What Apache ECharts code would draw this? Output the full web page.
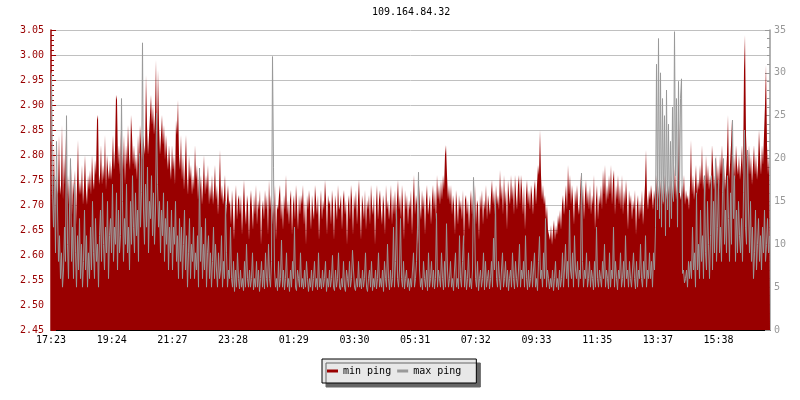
<!DOCTYPE html>
<html>
<head>
<meta charset="utf-8">
<script src="https://cdn.jsdelivr.net/npm/echarts@6/dist/echarts.min.js"></script>
<style>html,body{margin:0;padding:0;background:#fff;}#c{width:800px;height:400px;}</style>
</head>
<body>
<div id="c"></div>
<script>
const titleText = '109.164.84.32';
const tickLabels = ['17:23','19:24','21:27','23:28','01:29','03:30','05:31','07:32','09:33','11:35','13:37','15:38'];
const seriesNames = ['min ping','max ping'];

const minPing = [
2.74,2.70,2.76,2.72,2.82,2.68,2.76,2.73,2.72,2.84,
2.72,2.74,2.86,2.71,2.80,2.74,2.84,2.72,2.76,2.70,
2.74,2.78,2.68,2.75,2.72,2.77,2.66,2.74,2.83,2.72,
2.75,2.72,2.78,2.70,2.74,2.80,2.73,2.70,2.76,2.73,
2.77,2.72,2.80,2.75,2.73,2.79,2.76,2.87,2.88,2.74,
2.76,2.82,2.74,2.78,2.75,2.84,2.73,2.80,2.77,2.75,
2.79,2.75,2.78,2.84,2.77,2.81,2.92,2.91,2.78,2.82,
2.76,2.85,2.80,2.77,2.84,2.74,2.82,2.78,2.86,2.80,
2.77,2.88,2.84,2.78,2.82,2.77,2.80,2.75,2.84,2.78,
2.86,2.82,2.79,2.84,2.82,2.80,2.96,2.86,2.80,2.84,
2.88,2.92,2.86,2.90,2.84,2.88,2.99,2.82,2.97,2.86,
2.80,2.84,2.88,2.82,2.86,2.79,2.84,2.80,2.77,2.82,
2.78,2.75,2.82,2.77,2.80,2.74,2.87,2.84,2.91,2.80,
2.77,2.84,2.75,2.80,2.73,2.78,2.84,2.76,2.72,2.80,
2.75,2.78,2.72,2.76,2.73,2.82,2.75,2.78,2.71,2.76,
2.73,2.76,2.70,2.74,2.80,2.72,2.76,2.73,2.78,2.70,
2.74,2.71,2.76,2.70,2.73,2.78,2.71,2.74,2.68,2.73,
2.81,2.71,2.74,2.70,2.72,2.76,2.68,2.71,2.74,2.70,
2.71,2.66,2.73,2.69,2.63,2.70,2.74,2.67,2.71,2.72,
2.68,2.72,2.64,2.70,2.75,2.69,2.66,2.72,2.70,2.63,
2.70,2.73,2.69,2.65,2.72,2.68,2.74,2.66,2.71,2.69,
2.73,2.62,2.69,2.71,2.67,2.73,2.69,2.72,2.64,2.75,
2.69,2.72,2.66,2.71,2.68,2.74,2.63,2.70,2.69,2.72,
2.74,2.67,2.71,2.65,2.72,2.69,2.76,2.68,2.71,2.66,
2.71,2.73,2.64,2.70,2.72,2.67,2.74,2.70,2.65,2.72,
2.68,2.72,2.70,2.74,2.66,2.71,2.62,2.72,2.69,2.73,
2.70,2.65,2.72,2.69,2.67,2.74,2.71,2.68,2.72,2.63,
2.69,2.73,2.67,2.71,2.69,2.75,2.71,2.64,2.72,2.70,
2.71,2.66,2.73,2.70,2.63,2.72,2.70,2.67,2.74,2.69,
2.70,2.72,2.65,2.71,2.73,2.68,2.71,2.62,2.70,2.72,
2.67,2.74,2.71,2.64,2.72,2.69,2.73,2.66,2.71,2.75,
2.69,2.63,2.72,2.70,2.67,2.73,2.65,2.71,2.69,2.72,
2.66,2.74,2.70,2.68,2.72,2.62,2.70,2.74,2.67,2.71,
2.73,2.69,2.66,2.72,2.70,2.64,2.74,2.69,2.71,2.67,
2.70,2.74,2.66,2.72,2.68,2.73,2.67,2.71,2.75,2.69,
2.72,2.67,2.74,2.70,2.63,2.73,2.69,2.72,2.66,2.71,
2.69,2.73,2.64,2.71,2.76,2.68,2.72,2.70,2.62,2.74,
2.70,2.67,2.73,2.69,2.72,2.64,2.71,2.74,2.68,2.70,
2.72,2.66,2.71,2.74,2.69,2.73,2.67,2.76,2.71,2.74,
2.70,2.75,2.71,2.76,2.73,2.80,2.82,2.76,2.71,2.74,
2.70,2.74,2.68,2.72,2.70,2.64,2.73,2.70,2.66,2.72,
2.69,2.71,2.67,2.73,2.62,2.71,2.72,2.68,2.71,2.65,
2.70,2.73,2.68,2.72,2.67,2.74,2.66,2.71,2.70,2.63,
2.72,2.69,2.73,2.66,2.71,2.69,2.74,2.67,2.72,2.70,
2.68,2.72,2.75,2.70,2.73,2.68,2.74,2.70,2.72,2.69,
2.77,2.71,2.74,2.68,2.76,2.70,2.73,2.65,2.75,2.72,
2.70,2.76,2.71,2.74,2.68,2.76,2.72,2.69,2.74,2.76,
2.70,2.76,2.73,2.68,2.74,2.65,2.72,2.75,2.70,2.73,
2.69,2.74,2.72,2.68,2.73,2.75,2.70,2.74,2.78,2.76,
2.85,2.76,2.71,2.74,2.70,2.72,2.67,2.70,2.65,2.64,
2.63,2.66,2.62,2.65,2.67,2.63,2.66,2.64,2.68,2.66,
2.69,2.65,2.70,2.72,2.68,2.71,2.74,2.69,2.78,2.72,
2.76,2.70,2.74,2.71,2.66,2.73,2.70,2.74,2.70,2.68,
2.72,2.76,2.70,2.74,2.67,2.72,2.75,2.70,2.73,2.69,
2.74,2.68,2.72,2.70,2.76,2.65,2.71,2.74,2.67,2.72,
2.70,2.74,2.69,2.77,2.72,2.78,2.70,2.74,2.71,2.76,
2.72,2.78,2.70,2.75,2.77,2.68,2.74,2.71,2.76,2.70,
2.74,2.69,2.76,2.68,2.73,2.70,2.75,2.71,2.65,2.73,
2.70,2.72,2.67,2.71,2.69,2.73,2.64,2.70,2.72,2.67,
2.71,2.68,2.73,2.66,2.70,2.74,2.81,2.72,2.69,2.73,
2.71,2.74,2.72,2.69,2.73,2.71,2.76,2.72,2.74,2.71,
2.75,2.72,2.74,2.70,2.72,2.76,2.71,2.73,2.72,2.74,
2.72,2.76,2.71,2.74,2.72,2.78,2.71,2.74,2.76,2.87,
2.72,2.71,2.74,2.72,2.76,2.70,2.73,2.71,2.72,2.69,
2.74,2.83,2.72,2.76,2.71,2.74,2.78,2.72,2.75,2.73,
2.78,2.74,2.82,2.73,2.76,2.71,2.80,2.74,2.78,2.73,
2.76,2.74,2.82,2.78,2.73,2.76,2.80,2.74,2.78,2.73,
2.80,2.76,2.82,2.75,2.78,2.73,2.76,2.80,2.88,2.75,
2.78,2.82,2.87,2.76,2.80,2.75,2.82,2.78,2.76,2.80,
2.75,2.78,2.82,2.76,2.97,3.04,2.84,2.78,2.76,2.82,
2.76,2.80,2.74,2.78,2.82,2.76,2.80,2.75,2.78,2.85,
2.80,2.76,2.82,2.78,2.84,2.90,2.98,2.82,2.76,2.80
];

const maxPing = [
22,30,16,12,18,9,22,14,8,11,
6,9,5,7,12,8,25,10,6,14,
20,8,12,6,17,9,5,11,7,13,
6,10,5,8,14,7,11,5,9,6,
12,7,15,9,6,13,8,10,5,11,
14,8,16,10,7,12,9,15,6,11,
13,9,17,8,12,10,16,7,14,9,
11,27,15,8,13,10,17,9,12,7,
15,10,18,12,9,16,11,14,8,20.6,
12,16,33.5,14,10,17,12,19,9,15,
13,18,11,16,10,14,25.3,17,12,15,
9,14,11,16,8,13,10,15,7,12,
9,14,7,12,10,15,8,11,6,13,
8,12,6,10,14,7,11,5,9,13,
6,10,8,12,6,9,7,11,5,18.9,
8,12,6,10,7,13,5,9,11,6,
9,5,8,12,6,10,7,5,9,6,
7,11,5,8,6,15,9,5,7,6,
12,6,5,8,4.5,7,5,9,6,4.8,
7,5,6,4.6,8,5,10,6,5,7,
5,6,9,4.7,6,5,8,5,7,4.5,
6,8,5,7,4.8,9,6,5,10,6,
5,8,31.9,19,7,5,6,4.6,8,5,
6,10.5,5,7,4.7,6,9,5,6,4.5,
7,5,8,6,12,5,4.6,7,6,5,
9,5,6,4.8,7,5,8,6,4.5,6,
5,7,4.6,6,8,5,6,4.7,9,5,
6,4.8,7,5,6,8,4.5,6,5,7,
5,6,8.7,5,4.6,7,5,6,9,5,
4.7,6,5,8,5,4.5,7,6,5,8,
5,6,9.3,7,5,4.6,6,5,8,5,
6,4.8,7,5,6,9,5,4.5,6,7,
5,8,4.6,6,5,7,4.8,6,9,5,
6,5,7,4.5,8,6,5,10,6,4.7,
7,5,6,12,5,8,14,6,5,7,
13,6,5,8,4.8,6,7,5,6,4.6,
6,5,7,9,5,6,8,12,18.4,7,
5,6,4.7,8,6,5,7,4.6,9,5,
6,8,5,7,4.8,6,13.6,5,7,6,
5,9,6,4.7,8,5,12.4,7,5,6,
8,5,6,4.6,7,9,5,6,4.8,11,
6,5,8,11,5,7,4.7,6,9,5,
6,4.8,7,17.8,14,6,5,8,4.6,6,
7,5,6,9,4.7,8,5,6,7,4.8,
6,8,5,10.7,7,15.2,6,5,8,6,
4.7,7,9,5,6,8,5,7,4.6,6,
7,5,9,6,4.8,8,6,5,7,10,
5,7,6,8,5,11,6,4.7,7,5,
6,8,5,7,9,5,6,4.6,8,10.9,
6,7,5,9,6,13,5,7,6,4.8,
6,5,7,4.6,6,8,5,6,4.7,7,
5,6,9,5,7,10,6,8,5,14,
7,6,9,5,11,7,6,8,5,7,
6,18.3,8,5,7,6,9,5,6,8,
5,7,6,4.7,8,5,12,6,5,7,
6,5,8,6,10,5,7,6,4.8,9,
5,7,6,12,5,8,6,4.7,7,6,
9,5,6,8,5,11,6,7,5,8,
6,5,7,9,6,4.8,8,5,7,6,
10,6,5,8,6,11,5,7,6,9,
6,8,5,9,7,12,31,14,34,13,
30,12,27,15,25,11,28,14,24,12,
22,13,26,15,34.8,18,27,12,29,16,
27,29.3,6.6,7,5.5,6,7,5,8,6,
8,6,12,7,9,5,16,7,10,6,
14,8,11,6,18,9,7,15,10,6,
11,18,7,15,9,20,8,12,17.5,9,
12,8,16,20,10,14,9,18,13,8,
16,10,24.5,13,18,8,14,9,15,11,
9,13,8,16,23.3,12,10,21,14,9,
15,8,12,6,9,14,7,10,13,8,
11,7,12,9,14,8,10,13,9,11
];

const N = minPing.length;
const tickStep = 60.69; // points between time labels
const tickVals = tickLabels.map((_, k) => k * tickStep);
const FONT = 'DejaVu Sans Mono';
const RED = '#990000', GRAY = '#999999';

const chart = echarts.init(document.getElementById('c'), null, {renderer: 'canvas'});
chart.setOption({
  animation: false,
  backgroundColor: '#ffffff',
  title: {
    text: titleText, left: 372, top: 7, padding: 0,
    textStyle: {fontFamily: FONT, fontSize: 10, fontWeight: 'normal', color: '#000'}
  },
  legend: {
    data: [
      {name: seriesNames[0], itemStyle: {color: RED, borderWidth: 0}},
      {name: seriesNames[1], itemStyle: {color: GRAY, borderWidth: 0}}
    ],
    left: 322, top: 359,
    padding: [7, 15, 7, 5], itemGap: 6,
    icon: 'rect', itemWidth: 11, itemHeight: 3,
    backgroundColor: '#e8e8e8', borderColor: '#000', borderWidth: 1,
    shadowColor: '#666', shadowOffsetX: 4, shadowOffsetY: 4, shadowBlur: 0,
    textStyle: {fontFamily: FONT, fontSize: 10, color: '#000'}
  },
  grid: {left: 51, right: 30, top: 30, bottom: 70, containLabel: false},
  xAxis: {
    type: 'value', min: 0, max: N - 1,
    axisLine: {lineStyle: {color: '#000', width: 1}},
    axisTick: {inside: true, length: 5, customValues: tickVals, lineStyle: {color: '#000'}},
    axisLabel: {
      customValues: tickVals, margin: 5, color: '#000', fontFamily: FONT, fontSize: 10,
      formatter: v => tickLabels[Math.round(v / tickStep)] || ''
    },
    splitLine: {show: false}
  },
  yAxis: [{
    type: 'value', min: 2.45, max: 3.05, interval: 0.05,
    axisLine: {show: true, lineStyle: {color: RED, width: 1.5}},
    axisTick: {show: true, inside: true, length: 5, lineStyle: {color: RED}},
    minorTick: {show: true, splitNumber: 5, length: 3, lineStyle: {color: RED}},
    axisLabel: {color: RED, fontFamily: FONT, fontSize: 10, margin: 7,
      formatter: v => v.toFixed(2)},
    splitLine: {show: true, lineStyle: {color: '#c0c0c0', width: 1}}
  }, {
    type: 'value', min: 0, max: 35, interval: 5, position: 'right',
    axisLine: {show: true, lineStyle: {color: GRAY, width: 1.5}},
    axisTick: {show: true, inside: true, length: 5, lineStyle: {color: GRAY}},
    minorTick: {show: true, splitNumber: 5, length: 3, lineStyle: {color: GRAY}},
    axisLabel: {color: GRAY, fontFamily: FONT, fontSize: 10, margin: 4},
    splitLine: {show: false}
  }],
  series: [{
    name: seriesNames[0], type: 'line', yAxisIndex: 0, step: 'start',
    symbol: 'none', color: RED, itemStyle: {color: RED},
    lineStyle: {color: RED, width: 0},
    areaStyle: {color: RED, opacity: 1, origin: 'start'},
    data: minPing.map((v, i) => [i, v]), z: 2
  }, {
    name: seriesNames[1], type: 'line', yAxisIndex: 1, step: 'middle',
    symbol: 'none', color: GRAY, itemStyle: {color: GRAY},
    lineStyle: {color: GRAY, width: 1},
    data: maxPing.map((v, i) => [i, v]), z: 3
  }]
});
</script>
</body>
</html>
